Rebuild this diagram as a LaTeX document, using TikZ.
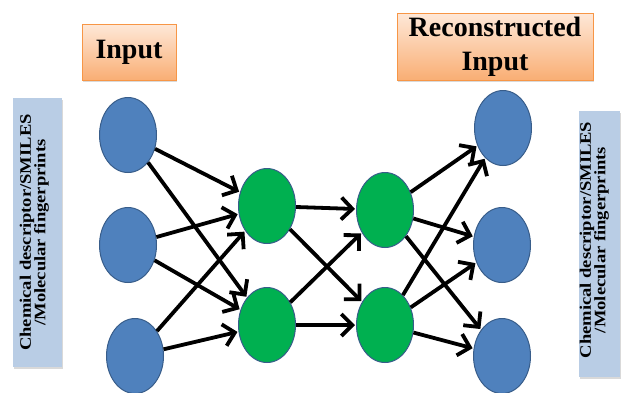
\documentclass[tikz,border=0pt]{standalone}
\usepackage{fontspec}
\setmainfont{Liberation Serif}
\usetikzlibrary{shapes.geometric,arrows.meta,shadows}
\definecolor{nodeblue}{HTML}{4F81BD}
\definecolor{nodeedge}{HTML}{385D8A}
\definecolor{nodegreen}{HTML}{00B050}
\definecolor{sidefill}{HTML}{B9CDE5}
\definecolor{titletop}{HTML}{FEE8D8}
\definecolor{titlebot}{HTML}{F9AE74}
\definecolor{titleedge}{HTML}{F79646}
\newcommand{\sidetext}{\scalebox{1.16}[1]{\begin{tabular}{@{}c@{}}Chemical descriptor/SMILES\\[-1.5pt]/Molecular fingerprints\end{tabular}}}
\tikzset{
  neuron/.style={ellipse, draw=nodeedge, line width=1pt, minimum width=57pt,
    minimum height=75pt, inner sep=0pt},
  inneuron/.style={neuron, fill=nodeblue},
  hidneuron/.style={neuron, fill=nodegreen},
  titlebox/.style={draw=titleedge, line width=0.8pt, top color=titletop,
    bottom color=titlebot, align=center, font=\bfseries\fontsize{28}{34}\selectfont,
    drop shadow={shadow xshift=1pt, shadow yshift=-2pt, opacity=0.3}},
  sidebox/.style={fill=sidefill, draw=none, inner sep=0pt,
    drop shadow={shadow xshift=1pt, shadow yshift=-2pt, opacity=0.3}},
  sidelabel/.style={rotate=90, inner sep=0pt, font=\bfseries\fontsize{16}{16}\selectfont},
  link/.style={line width=3.8pt, -{Straight Barb[length=11pt,width=22pt,line width=3.8pt]},
    shorten >=1pt}
}
\begin{document}
\begin{tikzpicture}[x=1pt, y=-1pt]
\useasboundingbox (0,0) rectangle (621,392);

% titles
\node[titlebox, minimum width=94pt, minimum height=56pt] (tin) at (129,52) {Input};
\node[titlebox, minimum width=196pt, minimum height=67pt] (tout) at (495,46.5) {Reconstructed\\Input};

% side labels
\node[sidebox, minimum width=49pt, minimum height=269pt] (lside) at (37.5,232.5) {};
\node[sidelabel] (ltext) at (35,232.5) {\sidetext};
\node[sidebox, minimum width=41pt, minimum height=266pt] (rside) at (599,244) {};
\node[sidelabel] (rtext) at (595,240) {\sidetext};

% input layer
\node[inneuron] (i1) at (128,135) {};
\node[inneuron] (i2) at (128,245) {};
\node[inneuron] (i3) at (135,356) {};
% hidden layers
\node[hidneuron] (h1) at (267,206) {};
\node[hidneuron] (h2) at (267,325) {};
\node[hidneuron] (g1) at (385,210) {};
\node[hidneuron] (g2) at (385,325) {};
% output layer
\node[inneuron] (o1) at (503,128) {};
\node[inneuron] (o2) at (502,245) {};
\node[inneuron] (o3) at (502,356) {};

% connections
\foreach \a in {i1,i2,i3}
  \foreach \b in {h1,h2}
    \draw[link] (\a) -- (\b);
\foreach \a in {h1,h2}
  \foreach \b in {g1,g2}
    \draw[link] (\a) -- (\b);
\foreach \a in {g1,g2}
  \foreach \b in {o1,o2,o3}
    \draw[link] (\a) -- (\b);
\end{tikzpicture}
\end{document}
